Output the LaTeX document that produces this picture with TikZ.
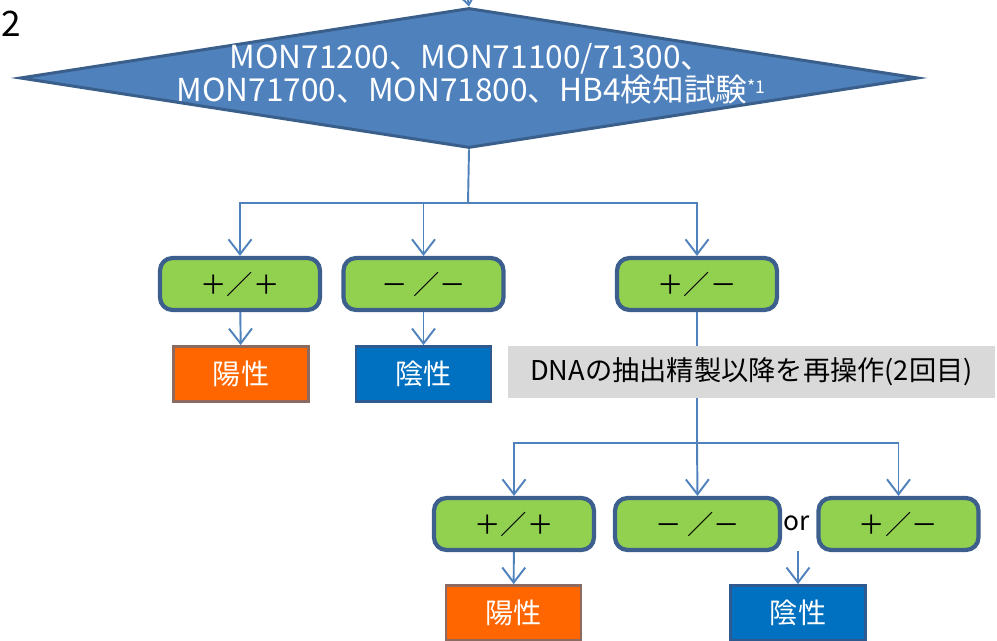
\documentclass[tikz,border=0pt]{standalone}
\usepackage{fontspec}
\setmainfont{Noto Sans CJK JP}
\usetikzlibrary{shapes.geometric,arrows.meta}
\definecolor{dmfill}{HTML}{4F81BD}
\definecolor{dmline}{HTML}{3A5F8B}
\definecolor{grfill}{HTML}{92D050}
\definecolor{grline}{HTML}{3C5F8E}
\definecolor{orfill}{HTML}{FF6600}
\definecolor{orline}{HTML}{8C6A60}
\definecolor{blfill}{HTML}{0070C0}
\definecolor{blline}{HTML}{2F5A8F}
\definecolor{gyfill}{HTML}{D9D9D9}
\definecolor{cnline}{HTML}{4F81BD}

\begin{document}
\begin{tikzpicture}[x=0.02cm,y=-0.02cm,
	link/.style={draw=cnline,line width=1.1pt},
	arr/.style={link,-{Straight Barb[length=3mm,width=4.6mm,line width=1.1pt]}},
	pm/.style={draw=grline,fill=grfill,line width=2.4pt,rounded corners=2.5mm,minimum width=3.2cm,minimum height=1.04cm,font=\fontsize{15}{18}\selectfont},
	posbox/.style={draw=orline,fill=orfill,line width=1.6pt,minimum width=2.7cm,minimum height=1.1cm,text=white,font=\fontsize{16}{18}\selectfont},
	negbox/.style={draw=blline,fill=blfill,line width=1.6pt,minimum width=2.7cm,minimum height=1.1cm,text=white,font=\fontsize{16}{18}\selectfont}]
		\useasboundingbox (0,0) rectangle (997,641);
		\clip (0,0) rectangle (997,641);
		\node[anchor=north west,inner sep=0pt,font=\fontsize{20}{22}\selectfont] (num) at (1,11) {2};
		\node[diamond,shape aspect=6.56,draw=dmline,fill=dmfill,line width=1.7pt,inner sep=0pt,minimum width=17.97cm,minimum height=2.8cm] (test) at (469,78) {};
		\node[text=white,align=center,font=\fontsize{18}{20}\selectfont] (testtext) at (471,74) {MON71200、MON71100/71300、\\[-1pt]MON71700、MON71800、HB4検知試験\raisebox{0.5ex}{\fontsize{10}{10}\selectfont *1}};
		\coordinate (top) at (468,0);
		\draw[arr] (top) -- (test.north);
		
		\node[pm] (ppA) at (240,284) {＋／＋};
		\node[pm] (mmA) at (423.5,284) {－ ／－};
		\node[pm] (pmA) at (697,284) {＋／－};
		\coordinate (splitA) at (468,203);
		\draw[link] (test.south) -- (splitA);
		\draw[arr] (splitA) -| (ppA.north);
		\draw[arr] (splitA) -| (mmA.north);
		\draw[arr] (splitA) -| (pmA.north);
		
		\node[posbox] (posA) at (241,374) {陽性};
		\node[negbox] (negA) at (423.5,374) {陰性};
		\draw[arr] (ppA) -- (posA);
		\draw[arr] (mmA) -- (negA);
		
		\coordinate (splitB) at (697,443);
		\draw[link] (pmA.south) -- (splitB);
		\node[fill=gyfill,minimum width=9.74cm,minimum height=1.04cm,font=\fontsize{15.5}{18}\selectfont] (redo) at (751.5,372) {DNAの抽出精製以降を再操作(2回目)};
		
		\node[pm] (ppB) at (514,524) {＋／＋};
		\node[pm,minimum width=3.3cm] (mmB) at (697.5,524) {－ ／－};
		\node[pm] (pmB) at (898.5,524) {＋／－};
		\draw[arr] (splitB) -| (ppB.north);
		\draw[arr] (splitB) -- (mmB.north);
		\draw[arr] (splitB) -| (pmB.north);
		\node[font=\fontsize{15}{18}\selectfont] (or) at (797,523) {or};
		
		\node[posbox] (posB) at (513.5,613) {陽性};
		\node[negbox] (negB) at (798,613) {陰性};
		\coordinate (orfoot) at (798,551);
		\draw[arr] (ppB) -- (posB);
		\draw[arr] (orfoot) -- (negB);
\end{tikzpicture}
\end{document}
